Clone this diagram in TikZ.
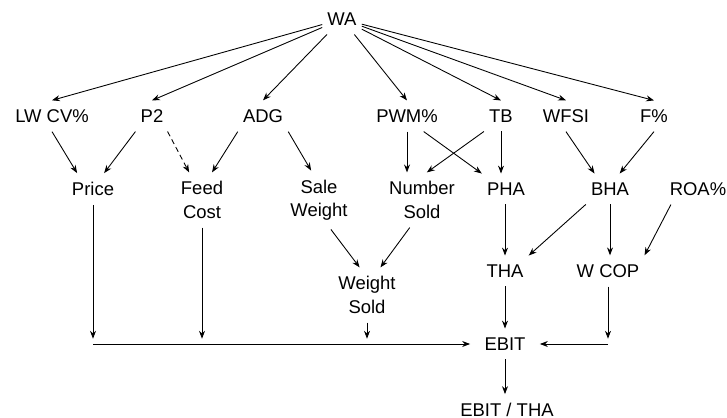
\documentclass[tikz,border=0pt]{standalone}
\usepackage{fontspec}
\setmainfont{Liberation Sans}
\usetikzlibrary{arrows.meta}

\begin{document}
\begin{tikzpicture}[x=0.02cm, y=-0.02cm,
        var/.style={align=center, inner xsep=2.8pt, inner ysep=5pt, font=\fontsize{10.5}{13.3}\selectfont},
        arrow/.style={-{Stealth[length=4.5pt, width=3.4pt]}, line width=0.5pt},
        darrow/.style={arrow, densely dashed}
    ]
    \useasboundingbox (0,0) rectangle (727,418);

    % --- Top: WA ---
    \node[var] (wa) at (342,19) {WA};

    % --- Row 1: drivers ---
    \node[var] (lwcv) at (52,116) {LW CV\%};
    \node[var] (ptwo) at (152,116) {P2};
    \node[var] (adg) at (263,116) {ADG};
    \node[var] (pwm) at (407,116) {PWM\%};
    \node[var] (tb) at (501,116) {TB};
    \node[var] (wfsi) at (566,116) {WFSI};
    \node[var] (fpct) at (654,116) {F\%};

    % --- Row 2 ---
    \node[var] (price) at (93,189) {Price};
    \node[var] (feed) at (202,200) {Feed\\Cost};
    \node[var] (sale) at (319,200) {Sale\\Weight};
    \node[var] (numsold) at (422,200) {Number\\Sold};
    \node[var] (pha) at (506,189) {PHA};
    \node[var] (bha) at (610,189) {BHA};
    \node[var] (roa) at (698,189) {ROA\%};

    % --- Row 3 ---
    \node[var] (wsold) at (367,295) {Weight\\Sold};
    \node[var] (tha) at (505,271) {THA};
    \node[var] (wcop) at (608,271) {W COP};

    % --- Result ---
    \node[var, inner xsep=8pt] (ebit) at (505,344) {EBIT};
    \node[var] (ebittha) at (507,410) {EBIT / THA};

    % --- WA fans out ---
    \foreach \t in {lwcv, ptwo, adg, pwm, tb, wfsi, fpct}
        \draw[arrow] (wa) -- (\t.north);

    % --- Row 1 to Row 2 ---
    \draw[arrow] (lwcv.south) -- (price.135);
    \draw[arrow] (ptwo.south west) -- (price.55);
    \draw[darrow] (ptwo.-45) -- (feed.115);
    \draw[arrow] (adg.south west) -- (feed.70);
    \draw[arrow] (adg.south east) -- (sale.105);
    \draw[arrow] (pwm.south) -- (pwm.south |- numsold.north);
    \draw[arrow] (pwm.-43) -- (pha.north west);
    \draw[arrow] (tb.south west) -- (numsold.80);
    \draw[arrow] (tb.south) -- (tb.south |- pha.north);
    \draw[arrow] (wfsi.south) -- (bha.135);
    \draw[arrow] (fpct.south) -- (bha.58);

    % --- Row 2 to Row 3 ---
    \draw[arrow] (sale.-68) -- (wsold.105);
    \draw[arrow] (numsold.-114) -- (wsold.64);
    \draw[arrow] (tha.north |- pha.south) -- (tha.north);
    \draw[arrow] (bha.south west) -- (tha.north east);
    \draw[arrow] (bha.south) -- (bha.south |- wcop.north);
    \draw[arrow] (roa.-150) -- (wcop.north east);

    % --- Into EBIT ---
    \coordinate (busL) at (price.south |- ebit);
    \coordinate (busR) at (wcop.south |- ebit);
    \draw[arrow, shorten >=3pt] (price) -- (busL);
    \draw[arrow, shorten >=3pt] (feed) -- (feed |- ebit);
    \draw[arrow, shorten >=3pt] (wsold) -- (wsold |- ebit);
    \draw[arrow, shorten >=3pt] (wcop) -- (busR);
    \draw[arrow] (busL) -- (ebit);
    \draw[arrow] (busR) -- (ebit);
    \draw[arrow] (tha) -- (ebit);
    \draw[arrow] (ebit) -- (ebit |- ebittha.north);

\end{tikzpicture}
\end{document}
